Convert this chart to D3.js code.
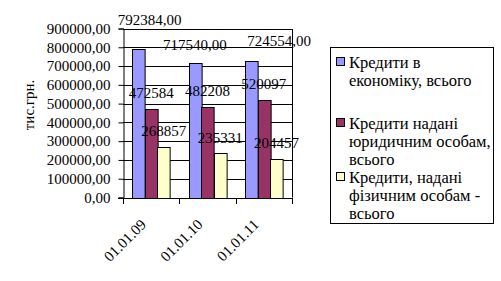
<!DOCTYPE html>
<html>
<head>
<meta charset="utf-8">
<script src="https://cdn.jsdelivr.net/npm/d3@7"></script>
<style>
  body { margin: 0; background: #fff; }
</style>
</head>
<body>
<svg id="chart" width="501" height="281"></svg>
<script>
  const CATEGORIES = ["01.01.09", "01.01.10", "01.01.11"];
  const SERIES = [
    "Кредити в економіку, всього",
    "Кредити надані юридичним особам, всього",
    "Кредити, надані фізичним особам - всього"
  ];
  const LEGEND_LINES = [
    ["Кредити в", "економіку, всього"],
    ["Кредити надані", "юридичним особам,", "всього"],
    ["Кредити, надані", "фізичним особам -", "всього"]
  ];
  const TOTAL    = [792384, 717540, 724554];
  const LEGAL    = [472584, 482208, 520097];
  const PERSONAL = [268857, 235331, 204457];
  const Y_TICKS  = [0, 100000, 200000, 300000, 400000, 500000, 600000, 700000, 800000, 900000];

  const COLORS = ["#9999ff", "#993366", "#ffffcc"];
  const FONT = "'Liberation Serif', 'Times New Roman', Times, serif";

  // manual label nudges (the blue labels were dragged around in the original)
  const TOTAL_NUDGE = [[11, -29], [0, -18], [28, -21]];

  const values = [TOTAL, LEGAL, PERSONAL];
  const rows = [];
  CATEGORIES.forEach((c, i) => {
    SERIES.forEach((s, j) => rows.push({ cat: c, series: s, si: j, ci: i, value: values[j][i] }));
  });

  const loc = d3.formatLocale({ decimal: ",", thousands: "", grouping: [3], currency: ["", ""] });
  const f2 = loc.format(".2f");

  const svg = d3.select("#chart");
  const L = 123, R = 292, T = 28.5, B = 197.5;

  const x0 = d3.scaleBand().domain(CATEGORIES).range([L, R]).padding(0);
  const x1 = d3.scaleBand().domain(SERIES).range([0, x0.bandwidth()])
    .paddingInner(0).paddingOuter(0.73);
  const y = d3.scaleLinear().domain([0, 900000]).range([B, T]);

  // gridlines
  svg.append("g").selectAll("line").data(Y_TICKS.slice(1)).join("line")
    .attr("x1", L).attr("x2", R)
    .attr("y1", d => Math.round(y(d)) + 0.5).attr("y2", d => Math.round(y(d)) + 0.5)
    .attr("stroke", "#000");
  svg.append("line")
    .attr("x1", R + 0.5).attr("x2", R + 0.5).attr("y1", Math.round(T)).attr("y2", B)
    .attr("stroke", "#000");

  // bars
  svg.append("g").selectAll("rect").data(rows).join("rect")
    .attr("x", d => Math.round(x0(d.cat) + x1(d.series)) + 0.5)
    .attr("y", d => Math.round(y(d.value)) + 0.5)
    .attr("width", x1.bandwidth())
    .attr("height", d => Math.round(B) - Math.round(y(d.value)))
    .attr("fill", d => COLORS[d.si])
    .attr("stroke", "#000");

  // y axis
  const ya = svg.append("g").attr("transform", `translate(${L + 0.5},0)`)
    .call(d3.axisLeft(y).tickValues(Y_TICKS).tickFormat(f2).tickSize(5).tickPadding(8));
  ya.select(".domain").attr("stroke", "#000");

  // x axis
  svg.append("line").attr("x1", L - 5).attr("x2", R + 1)
    .attr("y1", Math.round(B) + 0.5).attr("y2", Math.round(B) + 0.5).attr("stroke", "#000");
  svg.append("g").selectAll("line")
    .data(CATEGORIES.map(c => x0(c)).concat([R]))
    .join("line")
    .attr("x1", d => Math.round(d) + 0.5).attr("x2", d => Math.round(d) + 0.5)
    .attr("y1", Math.round(B)).attr("y2", Math.round(B) + 6)
    .attr("stroke", "#000");
  svg.append("g").attr("class", "cat").selectAll("text").data(CATEGORIES).join("text")
    .attr("transform", d => `translate(${x0(d) + x0.bandwidth() / 2 - 4},${B + 28}) rotate(-45)`)
    .attr("text-anchor", "end")
    .text(d => d);

  // value labels
  svg.append("g").selectAll("text").data(rows).join("text")
    .attr("x", d => x0(d.cat) + x1(d.series) + x1.bandwidth() / 2 + (d.si === 0 ? TOTAL_NUDGE[d.ci][0] : 0))
    .attr("y", d => y(d.value) + (d.si === 0 ? TOTAL_NUDGE[d.ci][1] : -16))
    .attr("dy", "0.35em")
    .attr("text-anchor", "middle")
    .text(d => d.si === 0 ? f2(d.value) : d.value);

  // y title
  svg.append("text")
    .attr("transform", "translate(29,105) rotate(-90)")
    .attr("dy", "0.35em")
    .attr("text-anchor", "middle")
    .text("тис.грн.");

  // legend
  const lg = svg.append("g").attr("class", "legend");
  lg.append("rect").attr("x", 330.5).attr("y", 47.5).attr("width", 163).attr("height", 176)
    .attr("fill", "#fff").attr("stroke", "#000");
  const ITEM_TOP = [62, 123, 177];
  const LINE_H = 18;
  SERIES.forEach((s, i) => {
    const g = lg.append("g");
    g.append("rect").attr("x", 336.5).attr("y", ITEM_TOP[i] - 4.5).attr("width", 8).attr("height", 8)
      .attr("fill", COLORS[i]).attr("stroke", "#000");
    g.selectAll("text").data(LEGEND_LINES[i]).join("text")
      .attr("x", 349)
      .attr("y", (d, k) => ITEM_TOP[i] + k * LINE_H)
      .attr("dy", "0.35em")
      .text(d => d);
  });

  svg.selectAll("text")
    .attr("font-family", null).attr("font-size", null)
    .style("font-family", FONT)
    .style("font-size", "15px")
    .style("fill", "#000");
  lg.selectAll("text").style("font-size", "16.5px");
</script>
</body>
</html>
